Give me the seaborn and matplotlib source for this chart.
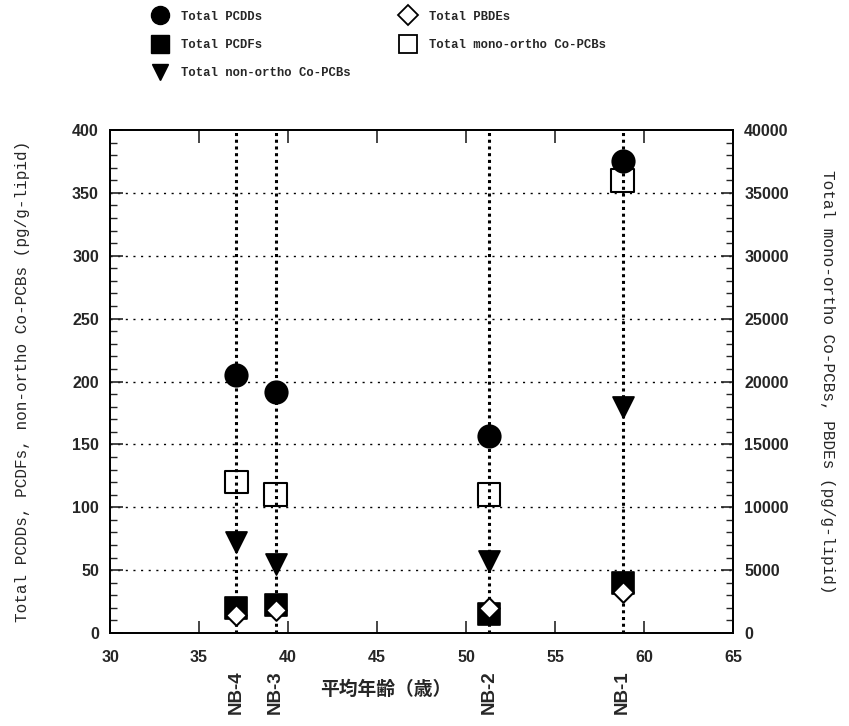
import matplotlib
matplotlib.use("Agg")
import matplotlib.pyplot as plt
import seaborn as sns
import pandas as pd
import numpy as np
from matplotlib.lines import Line2D
from matplotlib.ticker import MultipleLocator
import matplotlib.transforms as mtransforms

sns.set_theme(style="white")
plt.rcParams['font.family'] = ['Liberation Sans', 'Noto Sans CJK JP', 'DejaVu Sans']

# ---- data ----
samples = ["NB-4", "NB-3", "NB-2", "NB-1"]
mean_age = [37.1, 39.3, 51.3, 58.8]
pcdds = [205, 192, 157, 375]
pcdfs = [20, 22, 15, 40]
non_ortho = [72, 55, 57, 180]
pbdes = [1400, 1800, 2000, 3300]
mono_ortho = [12000, 11000, 11000, 36000]

df = pd.DataFrame({"age": mean_age, "PCDDs": pcdds, "PCDFs": pcdfs,
                   "non": non_ortho, "PBDEs": pbdes, "mono": mono_ortho})

mono_font = ['Liberation Mono', 'DejaVu Sans Mono']

fig = plt.figure(figsize=(8.49, 7.26), dpi=100)
ax = fig.add_axes([0.1296, 0.1281, 0.7338, 0.6928])
ax2 = ax.twinx()

ax.set_xlim(30, 65)
ax.set_ylim(0, 400)
ax2.set_ylim(0, 40000)

for y in range(50, 400, 50):
    ax.axhline(y, color="black", lw=1.0, ls=(0, (1.5, 4)), zorder=0)

for xv in mean_age:
    ax.axvline(xv, color="black", lw=2.2, ls=(0, (1, 1.2)), zorder=1)

kw = dict(ax=ax, color="black", edgecolor="black", legend=False, zorder=3)
sns.scatterplot(data=df, x="age", y="PCDDs", marker="o", s=260, **kw)
sns.scatterplot(data=df, x="age", y="PCDFs", marker="s", s=230, **kw)
sns.scatterplot(data=df, x="age", y="non", marker="v", s=230, **kw)
sns.scatterplot(data=df, x="age", y="mono", marker="s", s=260, ax=ax2,
                facecolor="none", edgecolor="black", linewidth=1.5, legend=False, zorder=3)
sns.scatterplot(data=df, x="age", y="PBDEs", marker="D", s=110, ax=ax2,
                facecolor="white", edgecolor="black", linewidth=1.5, legend=False, zorder=4)

ax.xaxis.set_major_locator(MultipleLocator(5))
ax.yaxis.set_major_locator(MultipleLocator(50))
ax.yaxis.set_minor_locator(MultipleLocator(10))
ax2.yaxis.set_major_locator(MultipleLocator(5000))
ax2.yaxis.set_minor_locator(MultipleLocator(1000))

ax.tick_params(axis="x", which="major", direction="in", length=9, width=1.2,
               top=True, bottom=True, labelsize=11.5, pad=12)
ax.tick_params(axis="y", which="major", direction="in", length=9, width=1.2,
               left=True, right=False, labelsize=11.5, pad=8)
ax.tick_params(axis="y", which="minor", direction="in", length=5, width=1.0, left=True)
ax2.tick_params(axis="y", which="major", direction="in", length=9, width=1.2,
                right=True, labelsize=11.5, pad=8)
ax2.tick_params(axis="y", which="minor", direction="in", length=5, width=1.0, right=True)
for a in (ax, ax2):
    for lbl in a.get_xticklabels() + a.get_yticklabels():
        lbl.set_fontweight("bold")
    for sp in a.spines.values():
        sp.set_color("black")
        sp.set_linewidth(1.3)

ax.set_xlabel("")
ax.set_ylabel("Total PCDDs, PCDFs, non-ortho Co-PCBs (pg/g-lipid)",
              fontsize=11.5, family=mono_font, labelpad=30)
ax2.set_ylabel("Total mono-ortho Co-PCBs, PBDEs (pg/g-lipid)", rotation=-90,
               fontsize=11.5, family=mono_font, labelpad=33)
ax2.set_xlabel("")

trans = mtransforms.blended_transform_factory(ax.transData, ax.transAxes)
for xv, s in zip(mean_age, samples):
    ax.text(xv, -0.075, s, rotation=90, ha="center", va="top", transform=trans,
            fontsize=13.5, fontweight="bold")
ax.text(45.5, -0.113, "平均年齢（歳）", ha="center", va="center", transform=trans,
        fontsize=13.5, family=['Noto Sans CJK JP'], fontweight="bold")

handles = [
    Line2D([], [], marker="o", color="black", ls="", markersize=13),
    Line2D([], [], marker="s", color="black", ls="", markersize=13),
    Line2D([], [], marker="v", color="black", ls="", markersize=12),
    Line2D([], [], marker="D", color="black", markerfacecolor="white", ls="", markersize=10, mew=1.3),
    Line2D([], [], marker="s", color="black", markerfacecolor="white", ls="", markersize=13, mew=1.3),
]
labels = ["Total PCDDs", "Total PCDFs", "Total non-ortho Co-PCBs",
          "Total PBDEs", "Total mono-ortho Co-PCBs"]
fig.legend(handles, labels, ncol=2, loc="upper left", bbox_to_anchor=(0.164, 1.002),
           frameon=False, prop={"family": mono_font, "size": 8.8, "weight": "bold"},
           labelspacing=1.32, columnspacing=4.0, handletextpad=1.0, handlelength=1.4,
           borderpad=0.5)

fig.savefig("out.png", dpi=100)
